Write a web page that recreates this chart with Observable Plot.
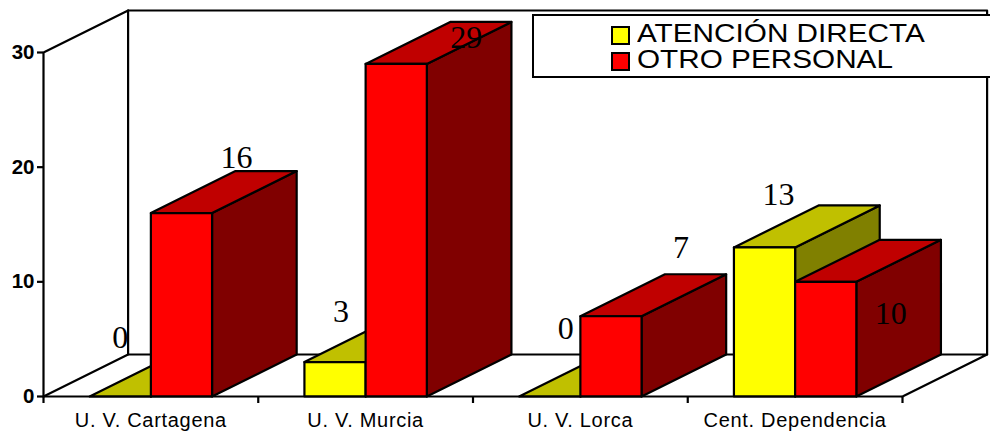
<!DOCTYPE html>
<html><head><meta charset="utf-8">
<script src="https://cdn.jsdelivr.net/npm/d3@7"></script>
<script src="https://cdn.jsdelivr.net/npm/@observablehq/plot@0.6"></script>
<style>
html,body{margin:0;padding:0;background:#fff;overflow:hidden;width:990px;height:433px}
#chart{position:relative;width:990px;height:433px}
#chart svg{display:block;position:absolute;left:0;top:0;overflow:visible}
#chart svg g[aria-label="x-axis tick label"] text{letter-spacing:.7px}
#legend{position:absolute;left:532px;top:14px;width:480px;height:60px;box-sizing:content-box;border:2px solid #000;background:#fff;
 font:26px/25px "Liberation Sans",Arial,sans-serif;color:#000}
#legend div{position:absolute;left:78px;white-space:nowrap}
#legend i{position:absolute;left:-1px;top:5px;width:15px;height:15px;border:2px solid #000}
#legend span{position:absolute;left:25px;top:0;transform:scaleX(1.143);transform-origin:0 50%}
</style></head><body>
<div id="chart"></div>
<script>
const categories = ["U. V. Cartagena", "U. V. Murcia", "U. V. Lorca", "Cent. Dependencia"];
const atencionDirecta = [0, 3, 0, 13];
const otroPersonal = [16, 29, 7, 10];
const yTicks = [0, 10, 20, 30];
const seriesNames = ["ATENCIÓN DIRECTA", "OTRO PERSONAL"];

// Layout constants
const W = 990, H = 433, mL = 43, mR = 88, mT = 52, mB = 37;
const lineW = 2.2;
const pxX = (W - mL - mR) / categories.length;
const pxY = (H - mT - mB) / 30;
const depthX = 84.6 / pxX, depthY = 42 / pxY;   // oblique offset, data units
const barW = 61.2 / pxX;

const palette = {
  y: {front: "#ffff00", top: "#c0c000", side: "#808000"},
  r: {front: "#ff0000", top: "#c00000", side: "#800000"}
};
// label offsets from each bar's front-top centre, in px
const shiftY = [[0, -59], [6, -50], [16, -68], [14, -53]];
const shiftR = [[55, -55], [70, -26], [70, -68], [65, 32]];

const faces = [];
function face(id, color, pts) {
  [...pts, pts[0]].forEach(([x, y]) => faces.push({id, color, x, y}));
}
function bar(id, x0, v, pal) {
  const x1 = x0 + barW;
  face(id + "s", pal.side, [[x1, 0], [x1 + depthX, depthY], [x1 + depthX, v + depthY], [x1, v]]);
  face(id + "t", pal.top, [[x0, v], [x1, v], [x1 + depthX, v + depthY], [x0 + depthX, v + depthY]]);
  if (v > 0) face(id + "f", pal.front, [[x0, 0], [x1, 0], [x1, v], [x0, v]]);
}
const labels = [];
categories.forEach((c, i) => {
  const m = i + 0.5;
  bar("y" + i, m - barW, atencionDirecta[i], palette.y);
  bar("r" + i, m, otroPersonal[i], palette.r);
  labels.push({t: atencionDirecta[i], x: m - barW / 2 + shiftY[i][0] / pxX, y: atencionDirecta[i] - shiftY[i][1] / pxY});
  labels.push({t: otroPersonal[i], x: m + barW / 2 + shiftR[i][0] / pxX, y: otroPersonal[i] - shiftR[i][1] / pxY});
});

const n = categories.length, yMax = yTicks[yTicks.length - 1];
const shell = [];
const seg = (id, pts) => pts.forEach(([x, y]) => shell.push({id, x, y}));
seg("floor", [[0, 0], [depthX, depthY], [n + depthX, depthY], [n, 0]]);
seg("left", [[0, 0], [0, yMax], [depthX, yMax + depthY], [depthX, depthY]]);
seg("back", [[depthX, yMax + depthY], [n + depthX, yMax + depthY], [n + depthX, depthY]]);

const plot = Plot.plot({
  width: W, height: H,
  marginLeft: mL, marginRight: mR, marginTop: mT, marginBottom: mB,
  style: {background: "transparent", color: "#000", overflow: "visible"},
  x: {domain: [0, n]},
  y: {domain: [0, yMax]},
  color: {type: "identity"},
  marks: [
    Plot.line(shell, {x: "x", y: "y", z: "id", stroke: "#000", strokeWidth: lineW}),
    Plot.line(faces, {x: "x", y: "y", z: "id", fill: "color", stroke: "#000", strokeWidth: lineW}),
    Plot.ruleY([0], {stroke: "#000", strokeWidth: lineW}),
    Plot.axisY({ticks: yTicks, tickSize: 6, tickPadding: 3, label: null, strokeWidth: lineW,
      fontSize: 20.5, fontWeight: "bold", fontFamily: "Liberation Sans"}),
    Plot.axisX({ticks: d3.range(n + 1), tickSize: 7, tickFormat: () => "", label: null, strokeWidth: lineW}),
    Plot.axisX({ticks: d3.range(n).map(i => i + 0.5), tickSize: 0, tickPadding: 16, label: null,
      tickFormat: d => categories[Math.floor(d)],
      fontSize: 20, fontFamily: "Liberation Sans"}),
    Plot.text(labels, {x: "x", y: "y", text: d => String(d.t), fontSize: 32,
      fontFamily: "Liberation Serif", fill: "#000", textAnchor: "middle", lineAnchor: "middle"})
  ]
});
const host = document.getElementById("chart");
host.appendChild(plot);

const lg = document.createElement("div");
lg.id = "legend";
[palette.y.front, palette.r.front].forEach((col, i) => {
  const row = document.createElement("div");
  row.style.top = (5 + i * 26) + "px";
  row.innerHTML = `<i style="background:${col}"></i><span>${seriesNames[i]}</span>`;
  lg.appendChild(row);
});
host.appendChild(lg);
</script>
</body></html>
